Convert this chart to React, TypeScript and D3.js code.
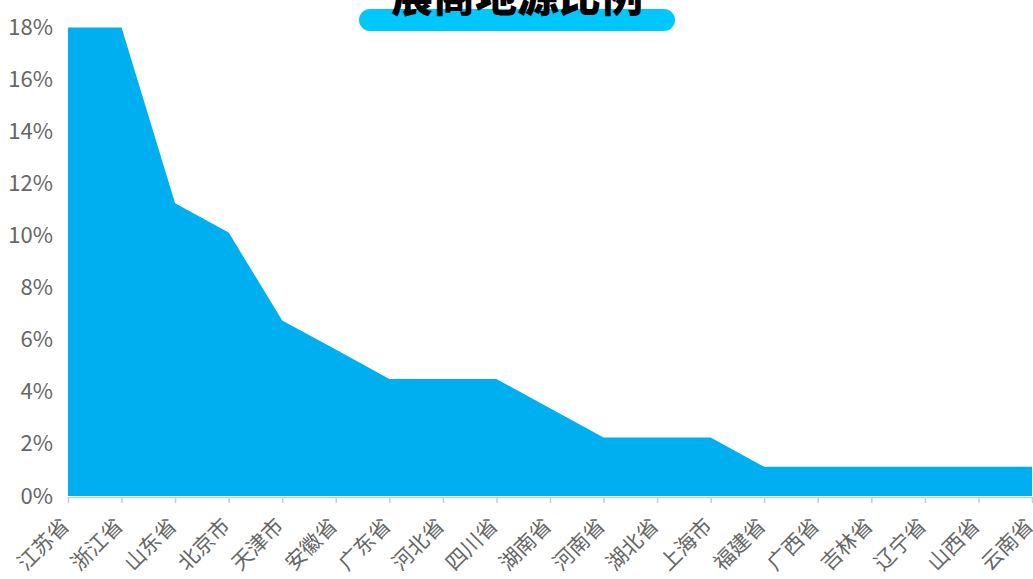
import React, { useEffect, useRef } from 'react';
import * as d3 from 'd3';

const provinces = [
  '江苏省', '浙江省', '山东省', '北京市', '天津市', '安徽省', '广东省', '河北省', '四川省', '湖南省',
  '河南省', '湖北省', '上海市', '福建省', '广西省', '吉林省', '辽宁省', '山西省', '云南省',
];
const shares = [
  17.98, 17.98, 11.24, 10.11, 6.74, 5.62, 4.49, 4.49, 4.49, 3.37,
  2.25, 2.25, 2.25, 1.12, 1.12, 1.12, 1.12, 1.12, 1.12,
];
const yTicks = [0, 2, 4, 6, 8, 10, 12, 14, 16, 18];
const title = '展商地源比例';

const W = 1033;
const H = 579;
const FONT = '"Noto Sans CJK SC", "Noto Sans", sans-serif';

const App: React.FC = () => {
  const svgRef = useRef<SVGSVGElement>(null);

  useEffect(() => {
    if (!svgRef.current) return;
    const svg = d3.select(svgRef.current);
    svg.selectAll('*').remove();

    const margin = { top: 27, right: 1, bottom: 83, left: 68 };
    const x = d3.scalePoint<string>()
      .domain(provinces)
      .range([margin.left, W - margin.right]);
    const y = d3.scaleLinear()
      .domain([0, 18])
      .range([H - margin.bottom, margin.top]);

    const data = provinces.map((p, i) => ({ p, v: shares[i] }));

    // area
    const area = d3.area<{ p: string; v: number }>()
      .x(d => x(d.p) as number)
      .y0(y(0))
      .y1(d => y(d.v));

    svg.append('path')
      .datum(data)
      .attr('d', area)
      .attr('fill', '#00AFEF');

    // x axis
    const xAxis = svg.append('g')
      .attr('transform', `translate(0,${y(0) + 1})`)
      .call(d3.axisBottom(x).tickSize(6).tickSizeOuter(0));
    xAxis.select('.domain').attr('stroke', '#cccccc').attr('stroke-width', 1.5);
    xAxis.selectAll('.tick line').attr('stroke', '#cccccc').attr('stroke-width', 1.5);
    xAxis.selectAll('.tick text')
      .attr('fill', '#666666')
      .attr('font-family', FONT)
      .attr('font-size', 21)
      .attr('text-anchor', 'end')
      .attr('x', 0)
      .attr('y', 0)
      .attr('dy', '0.35em')
      .attr('transform', 'translate(-3,25) rotate(-45)');

    // y axis labels
    const yAxis = svg.append('g')
      .attr('transform', `translate(${margin.left},0)`)
      .call(d3.axisLeft(y).tickValues(yTicks).tickFormat(d => `${d}%`).tickSize(0).tickPadding(15));
    yAxis.select('.domain').remove();
    yAxis.selectAll('.tick text')
      .attr('fill', '#666666')
      .attr('font-family', FONT)
      .attr('font-size', 22);

    // title
    svg.append('rect')
      .attr('x', 359).attr('y', 9)
      .attr('width', 316).attr('height', 22)
      .attr('rx', 11)
      .attr('fill', '#00C8FF');
    svg.append('text')
      .attr('x', 517).attr('y', 12)
      .attr('text-anchor', 'middle')
      .attr('font-family', FONT)
      .attr('font-weight', 900)
      .attr('font-size', 42)
      .attr('fill', '#000000')
      .text(title);
  }, []);

  return (
    <div style={{ position: 'fixed', left: 0, top: 0, width: W, height: H, background: '#ffffff' }}>
      <svg ref={svgRef} width={W} height={H} style={{ display: 'block' }} />
    </div>
  );
};

export default App;
